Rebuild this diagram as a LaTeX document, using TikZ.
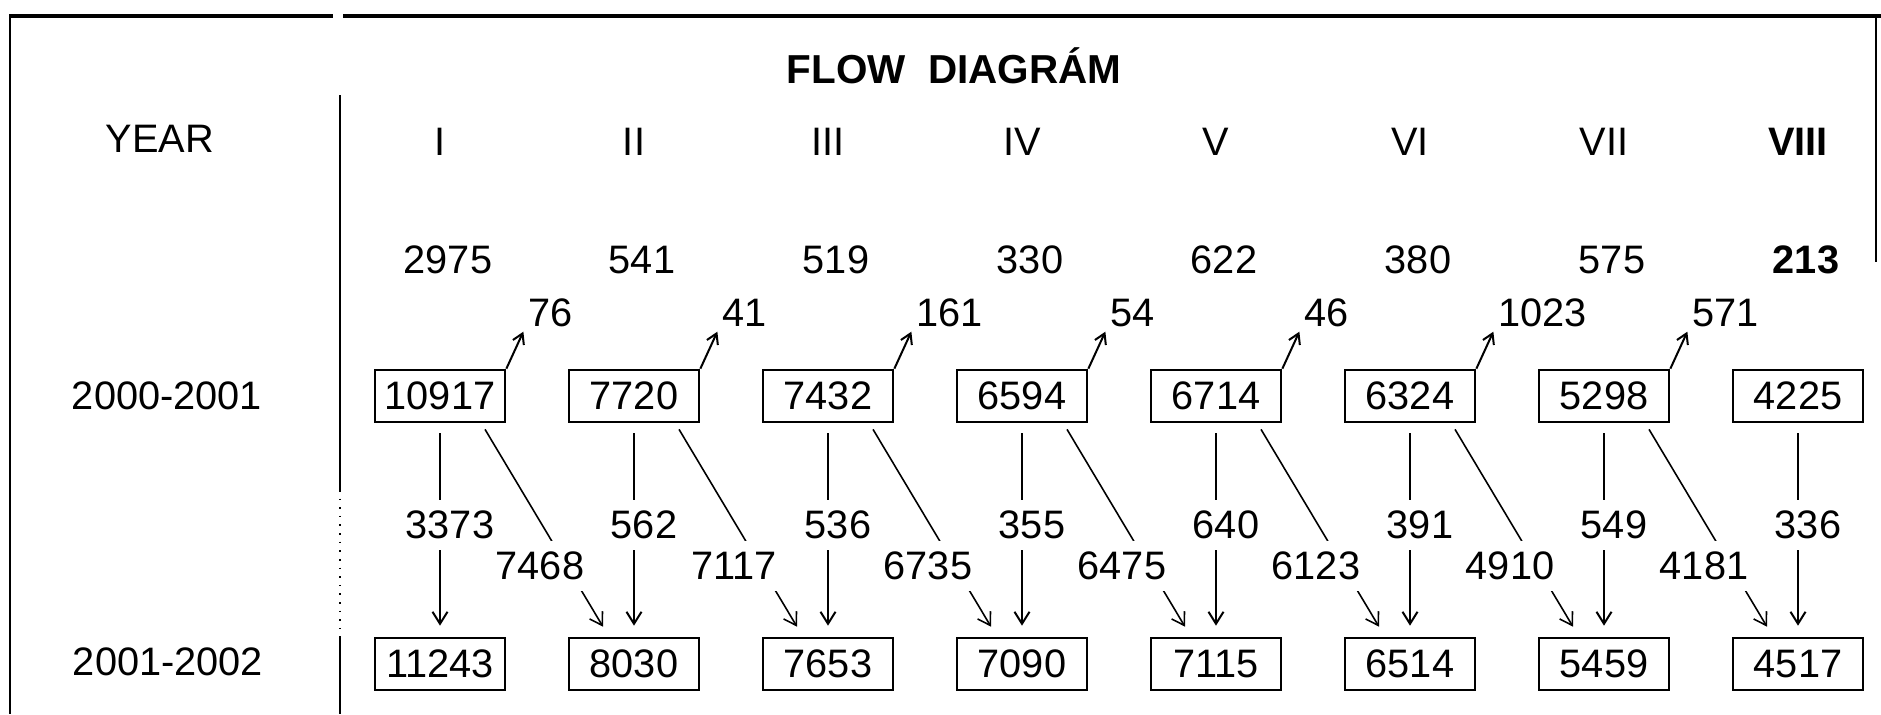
\documentclass[tikz,border=0pt]{standalone}
\usepackage{fontspec}
\setmainfont{Liberation Sans}
\usetikzlibrary{arrows.meta,positioning,calc,backgrounds}

\begin{document}
\begin{tikzpicture}[
  x=0.01cm, y=-0.01cm,
  font=\fontsize{11.3}{13}\selectfont,
  valbox/.style={draw, line width=0.75pt, minimum width=1.3cm, minimum height=0.52cm, inner sep=1pt},
  flowlbl/.style={fill=white, inner sep=0.11cm},
  outlbl/.style={inner sep=0pt, outer sep=0.05cm},
  down/.style={line width=0.57pt, shorten <=0.1cm, shorten >=0.11cm,
               -{Straight Barb[length=1.2mm,width=1.5mm]}},
  cross/.style={line width=0.45pt, -{Straight Barb[length=1.2mm,width=1.5mm]}},
  loss/.style={line width=0.57pt, -{Straight Barb[length=1mm,width=1.2mm]}},
]
\useasboundingbox (0,0) rectangle (1881,714);

% --- frame ---
\draw[line width=1.1pt] (9,16) -- (333,16) (343,16) -- (1881,16);
\draw[line width=0.6pt] (10,16) -- (10,714);
\draw[line width=0.8pt] (1876,16) -- (1876,262);
\draw[line width=0.45pt] (340,95) -- (340,490) (340,636) -- (340,714);
\draw[line width=0.45pt, dotted] (340,490) -- (340,636);

% --- headings ---
\node[font=\fontsize{11.5}{13}\selectfont\bfseries] (title) at (954,66) {FLOW\ \ DIAGRÁM};
\node (year) at (160,139) {YEAR};
\node (yr1) at (167,396) {2000-2001};
\node (yr2) at (168,662) {2001-2002};

% --- columns ---
\foreach \i/\yr/\cnt/\oldv/\vflow/\newv [evaluate=\i as \x using 440+194*(\i-1)] in
  {1/I/2975/10917/3373/11243, 2/II/541/7720/562/8030, 3/III/519/7432/536/7653,
   4/IV/330/6594/355/7090, 5/V/622/6714/640/7115, 6/VI/380/6324/391/6514,
   7/VII/575/5298/549/5459, 8/\textbf{VIII}/\textbf{213}/4225/336/4517} {
  \node (r\i) at (\x,142) {\yr};
  \node (c\i) at (\x+8,260) {\cnt};
  \node[valbox] (t\i) at (\x,396) {\oldv};
  \node[flowlbl] (v\i) at (\x+10,525) {\vflow};
  \node[valbox] (b\i) at (\x,664) {\newv};
}

% --- losses and cross flows ---
\foreach \i/\lossv/\dflow [evaluate=\i as \x using 440+194*(\i-1)] in
  {1/76/7468, 2/41/7117, 3/161/6735, 4/54/6475, 5/46/6123, 6/1023/4910, 7/571/4181} {
  \node[outlbl, above right=0.37cm and 0.17cm of t\i.north east] (o\i) {\lossv};
  \node[flowlbl] (d\i) at (\x+100,566) {\dflow};
}

% --- connectors ---
\begin{scope}[on background layer]
  \foreach \i in {1,...,8}
    \draw[down] (t\i) -- (b\i);
  \foreach \i [evaluate=\i as \j using int(\i+1)] in {1,...,7} {
    \draw[cross] ($(t\i.south)+(45,6)$) -- ($(b\j.north)+(-31,-10)$);
    \draw[loss] (t\i.north east) -- (o\i.south west);
  }
\end{scope}

\end{tikzpicture}
\end{document}
